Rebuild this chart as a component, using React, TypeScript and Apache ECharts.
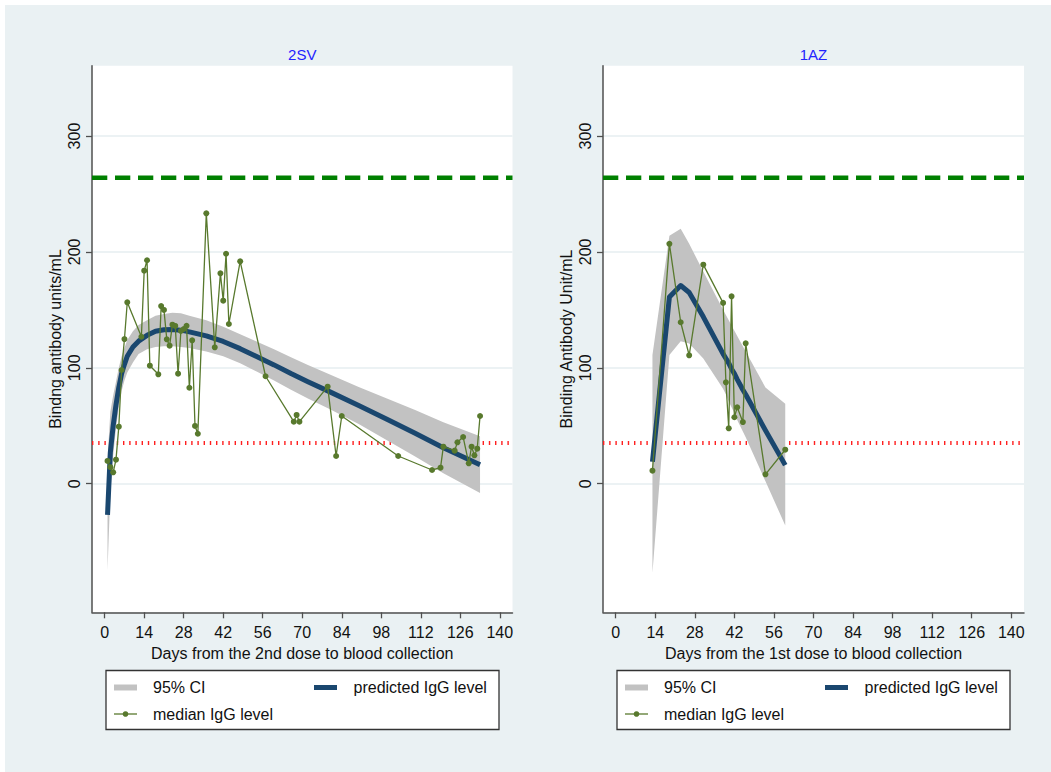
import React, { useEffect, useRef } from "react";
import * as echarts from "echarts";

const FONT = '"Liberation Sans", Arial, Helvetica, sans-serif';

// axes
const xTicks = [0, 14, 28, 42, 56, 70, 84, 98, 112, 126, 140];
const yTicks = [0, 100, 200, 300];
const xRange = [-4.5, 144.5];
const yRange = [-111, 360.7];

// reference levels
const refHigh = 264;
const refLow = 35;

// 2SV panel
const svDays = [1, 2, 3, 4, 5, 6, 7, 8, 13, 14, 15, 16, 19, 20, 21, 22, 23, 24, 25, 26, 27, 28, 29, 30, 31, 32, 33, 36, 39, 41, 42, 43, 44, 48, 57, 67, 68, 69, 79, 82, 84, 104, 116, 119, 120, 124, 125, 127, 129, 130, 131, 132, 133];
const svMedian = [19.6, 14.2, 9.8, 20.7, 49.2, 98.1, 124.8, 156.5, 126.8, 183.8, 192.8, 101.8, 94.4, 153.3, 149.9, 124.6, 119.1, 137.2, 136.1, 94.9, 131.8, 133.5, 136.2, 82.8, 123.7, 49.8, 43.1, 233.3, 117.7, 181.5, 157.9, 198.4, 137.8, 191.9, 92.7, 53.5, 59.3, 53.5, 83.7, 23.9, 58.4, 23.9, 11.8, 13.8, 31.9, 28.5, 35.7, 40.3, 17.6, 31.9, 24.5, 30.2, 58.4];
const svFitDays = [1, 2, 3, 4, 5, 6, 7, 8, 10, 12, 15, 18, 21, 24, 27, 30, 36, 42, 48, 54, 60, 66, 72, 80, 90, 100, 110, 120, 133];
const svPred = [-27, 27, 50, 68, 83, 95, 103, 110, 118, 123, 128, 131.5, 132.8, 133, 132.5, 131, 127.5, 122.7, 116.5, 109.5, 102.5, 95, 88, 79, 67.5, 55.5, 43.5, 31, 16.4];
const svUpper = [21, 62, 76, 88, 100, 110, 117, 124, 131.5, 137, 141, 145, 146.5, 147.5, 147, 145, 141, 135.5, 129, 122.5, 116, 109, 102.5, 94, 83.5, 73.5, 63.5, 53, 41];
const svLower = [-75, -8, 24, 48, 66, 80, 89, 96, 104.5, 112, 116, 118, 118.5, 118.5, 118, 117, 114, 110, 104, 96.5, 89, 81, 73.5, 64, 51.5, 37.5, 23.5, 9, -8];

// 1AZ panel
const azDays = [13, 19, 23, 26, 31, 38, 39, 40, 41, 42, 43, 45, 46, 53, 60];
const azMedian = [11.2, 207, 139.3, 110.8, 189, 156, 87.5, 47.8, 161.7, 57.3, 65.9, 53.2, 121.1, 8.1, 29.3];
const azPred = [19, 161, 171, 165, 144, 112, 108, 104, 99, 95, 90, 81, 77, 46, 16];
const azUpper = [111, 214, 220, 207, 183, 150, 145.5, 141, 136.5, 132, 127.5, 118.5, 114, 83, 69];
const azLower = [-77, 111, 123, 121, 108, 82, 77, 71, 66, 61, 55, 45, 40, 2, -36];

const C_BAND = "#c2c2c2";
const C_PRED = "#1a476f";
const C_MED = "#58792d";
const C_AXIS = "#4f4f4f";
const C_TEXT = "#111111";

const zip = (a: number[], b: number[]) => a.map((v, i) => [v, b[i]]);

function xAxisFor(gridIndex: number, name: string) {
  return {
    type: "value",
    gridIndex,
    min: xRange[0],
    max: xRange[1],
    name,
    nameLocation: "middle",
    nameGap: 30,
    nameTextStyle: { fontSize: 16, color: C_TEXT, fontFamily: FONT },
    axisLine: { show: true, onZero: false, lineStyle: { color: C_AXIS, width: 1.5 } },
    axisTick: { show: true, length: 6, customValues: xTicks, lineStyle: { color: C_AXIS, width: 1.3 } },
    axisLabel: { customValues: xTicks, margin: 12, fontSize: 16, color: C_TEXT, fontFamily: FONT },
    splitLine: { show: false },
  };
}

function yAxisFor(gridIndex: number, name: string) {
  return {
    type: "value",
    gridIndex,
    min: yRange[0],
    max: yRange[1],
    name,
    nameLocation: "middle",
    nameGap: 29,
    nameTextStyle: { fontSize: 16, color: C_TEXT, fontFamily: FONT },
    axisLine: { show: true, onZero: false, lineStyle: { color: C_AXIS, width: 1.5 } },
    axisTick: { show: true, length: 6, customValues: yTicks, lineStyle: { color: C_AXIS, width: 1.3 } },
    axisLabel: { customValues: yTicks, rotate: 90, margin: 10, fontSize: 16, color: C_TEXT, fontFamily: FONT },
    splitLine: { show: true, lineStyle: { color: "#e6eef1", width: 1.5 } },
  };
}

function bandSeries(idx: number, days: number[], lower: number[], upper: number[]) {
  return {
    type: "custom",
    xAxisIndex: idx,
    yAxisIndex: idx,
    z: 3,
    silent: true,
    data: days.map((d, i) => [d, lower[i], upper[i]]),
    encode: { x: 0, y: [1, 2] },
    renderItem: (params: any, api: any) => {
      if (params.dataIndex !== 0) return null;
      const top = days.map((d, i) => api.coord([d, upper[i]]));
      const bot = days.map((d, i) => api.coord([d, lower[i]])).reverse();
      return {
        type: "polygon",
        shape: { points: top.concat(bot) },
        style: { fill: C_BAND, stroke: null },
      };
    },
  };
}

function refSeries(idx: number, value: number, color: string, width: number, dash: number[]) {
  return {
    type: "line",
    xAxisIndex: idx,
    yAxisIndex: idx,
    z: 2,
    silent: true,
    symbol: "none",
    data: [[xRange[0], value], [xRange[1], value]],
    lineStyle: { color, width, type: dash, cap: "butt" },
  };
}

function panelSeries(idx: number, days: number[], median: number[], fitDays: number[], pred: number[], lower: number[], upper: number[]) {
  return [
    refSeries(idx, refLow, "#ff1f1f", 4, [1.4, 4.8]),
    refSeries(idx, refHigh, "#008000", 4.5, [15.3, 7.7]),
    bandSeries(idx, fitDays, lower, upper),
    {
      type: "line",
      xAxisIndex: idx,
      yAxisIndex: idx,
      z: 4,
      silent: true,
      symbol: "none",
      data: zip(fitDays, pred),
      lineStyle: { color: C_PRED, width: 5, join: "round" },
    },
    {
      type: "line",
      xAxisIndex: idx,
      yAxisIndex: idx,
      z: 5,
      silent: true,
      symbol: "circle",
      symbolSize: 6,
      showAllSymbol: true,
      data: zip(days, median),
      itemStyle: { color: C_MED, borderWidth: 0 },
      lineStyle: { color: C_MED, width: 1.3 },
    },
  ];
}

function legendItems(x0: number) {
  const y0 = 665.5;
  const r1 = 682.5;
  const r2 = 709;
  const txt = (x: number, y: number, text: string) => ({
    type: "text",
    x,
    y,
    silent: true,
    style: { text, fill: C_TEXT, fontSize: 16, fontFamily: FONT, align: "left", verticalAlign: "middle" },
  });
  return [
    { type: "rect", silent: true, shape: { x: x0, y: y0, width: 393, height: 59 }, style: { fill: "#ffffff", stroke: "#333333", lineWidth: 1.3 } },
    { type: "rect", silent: true, shape: { x: x0 + 8, y: r1 - 3, width: 23, height: 6 }, style: { fill: C_BAND } },
    txt(x0 + 47, r1, "95% CI"),
    { type: "rect", silent: true, shape: { x: x0 + 208, y: r1 - 2.5, width: 23, height: 5 }, style: { fill: C_PRED } },
    txt(x0 + 247.5, r1, "predicted IgG level"),
    { type: "line", silent: true, shape: { x1: x0 + 8, y1: r2, x2: x0 + 31, y2: r2 }, style: { stroke: C_MED, lineWidth: 1.3 } },
    { type: "circle", silent: true, shape: { cx: x0 + 19.5, cy: r2, r: 2.8 }, style: { fill: C_MED } },
    txt(x0 + 47, r2, "median IgG level"),
  ];
}

const titleText = (x: number, text: string) => ({
  type: "text",
  x,
  y: 49,
  silent: true,
  style: { text, fill: "#2323ff", fontSize: 15, fontFamily: FONT, align: "center", verticalAlign: "middle" },
});

export default function App() {
  const ref = useRef<HTMLDivElement>(null);
  useEffect(() => {
    const chart = echarts.init(ref.current!, null, { renderer: "svg" });
    const option: any = {
      animation: false,
      backgroundColor: "#eaf1f3",
      grid: [
        { left: 87, top: 60.7, width: 420.5, height: 546.6, show: true, backgroundColor: "#ffffff", borderWidth: 0 },
        { left: 598, top: 60.7, width: 421, height: 546.6, show: true, backgroundColor: "#ffffff", borderWidth: 0 },
      ],
      xAxis: [
        xAxisFor(0, "Days from the 2nd dose to blood collection"),
        xAxisFor(1, "Days from the 1st dose to blood collection"),
      ],
      yAxis: [yAxisFor(0, "Bindng antibody units/mL"), yAxisFor(1, "Binding Antibody Unit/mL")],
      series: [
        ...panelSeries(0, svDays, svMedian, svFitDays, svPred, svLower, svUpper),
        ...panelSeries(1, azDays, azMedian, azDays, azPred, azLower, azUpper),
      ],
      graphic: [titleText(297.25, "2SV"), titleText(808.5, "1AZ"), ...legendItems(101), ...legendItems(612)],
    };
    chart.setOption(option);
    return () => chart.dispose();
  }, []);
  return (
    <div style={{ position: "absolute", left: 0, top: 0, width: 1051, height: 772, background: "#ffffff" }}>
      <div ref={ref} style={{ position: "absolute", left: 5, top: 5, width: 1046, height: 767 }} />
    </div>
  );
}
